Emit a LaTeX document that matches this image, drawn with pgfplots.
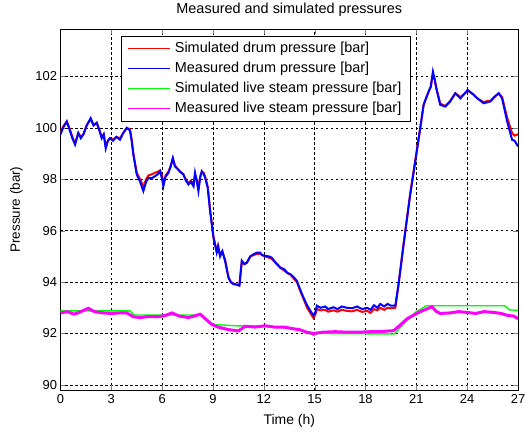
\documentclass[border=0pt]{standalone}
\usepackage{pgfplots}
\pgfplotsset{compat=1.18}
\usepackage{fontspec}
\setmainfont{Liberation Sans}
\definecolor{mred}{RGB}{255,0,0}
\definecolor{mblue}{RGB}{0,0,255}
\definecolor{mgreen}{RGB}{0,255,0}
\definecolor{mmag}{RGB}{255,0,255}
\begin{document}
\begin{tikzpicture}
\useasboundingbox (-60.5bp,-42bp) rectangle (464.5bp,390bp);
\begin{axis}[
  at={(0,0)}, anchor=south west,
  scale only axis, width=457.5bp, height=361bp,
  xmin=0, xmax=27, ymin=89.8, ymax=103.85,
  xtick={0,3,...,27}, ytick={90,92,...,102},
  tick align=inside, major tick length=5bp,
  xtick pos=both, ytick pos=both,
  grid=major,
  major grid style={black, line width=0.5pt, dash pattern=on 2.5bp off 2.5bp},
  axis line style={black, line width=0.8pt},
  /pgf/number format/assume math mode=true,
  tick label style={font=\fontsize{13}{15}\selectfont},
  xticklabel style={yshift=-1bp},
  title={Measured and simulated pressures},
  title style={font=\fontsize{14.5}{16}\selectfont, at={(axis description cs:0.5,1.036)}, anchor=center},
  xlabel={Time (h)},
  xlabel style={font=\fontsize{14}{16}\selectfont, at={(axis description cs:0.5,-0.0859)}, anchor=center},
  ylabel={Pressure (bar)},
  ylabel style={font=\fontsize{13.5}{16}\selectfont, at={(axis description cs:-0.0962,0.5)}, anchor=center},
  legend cell align=left,
  legend image code/.code={\draw[#1] (0bp,0bp) -- (42bp,0bp);},
  legend style={at={(axis description cs:0.1316,0.9806)}, anchor=north west,
    draw=black, fill=white, font=\fontsize{14.5}{16}\selectfont,
    inner xsep=6bp, inner ysep=2.5bp, row sep=0bp, column sep=2bp,
    nodes={inner sep=2.5bp, text height=11.5bp, text depth=3.5bp}},
]
\addplot[mred, line width=2pt, forget plot] coordinates {
(0,99.8) (0.15,100.05) (0.37,100.25) (0.55,99.95) (0.7,99.65) (0.86,99.4) (1.05,99.8) (1.2,99.65) (1.35,99.75) (1.55,100.1) (1.78,100.35) (1.95,100.1) (2.14,100.2) (2.3,99.9) (2.43,99.65) (2.55,99.75) (2.67,99.3) (2.8,99.5) (2.92,99.6) (3.1,99.55) (3.3,99.65) (3.51,99.6) (3.7,99.8) (3.91,100.0) (4.1,99.95) (4.2,99.55) (4.3,99.0) (4.5,98.25) (4.7,98.0) (4.89,97.7) (5.05,98.0) (5.19,98.15) (5.4,98.2) (5.58,98.25) (5.75,98.3) (5.88,98.35) (6.0,98.1) (6.07,97.85) (6.2,98.15) (6.37,98.3) (6.5,98.5) (6.63,98.8) (6.75,98.55) (6.86,98.45) (7.05,98.3) (7.25,98.2) (7.4,98.0) (7.55,97.85) (7.7,97.95) (7.85,97.8) (7.94,98.2) (8.05,97.95) (8.14,97.7) (8.25,98.1) (8.34,98.3) (8.45,98.25) (8.54,98.1) (8.69,97.7) (8.83,96.8) (9.03,95.75) (9.22,95.2) (9.3,95.4) (9.42,95.05) (9.55,95.2) (9.72,94.85) (9.91,94.2) (10.05,94.0) (10.2,93.95) (10.4,93.9) (10.56,93.9) (10.7,94.8) (10.85,94.7) (11.0,94.75) (11.2,95.0) (11.39,95.05) (11.6,95.1) (11.78,95.1) (11.9,95.05) (12.08,95.0) (12.3,94.95) (12.47,94.9) (12.7,94.75) (12.97,94.55) (13.2,94.45) (13.4,94.35) (13.56,94.3) (13.75,94.15) (13.95,94.0) (14.15,93.65) (14.34,93.35) (14.55,93.0) (14.74,92.8) (14.93,92.6) (15.05,92.75) (15.13,92.95) (15.35,92.9) (15.62,92.92) (15.8,92.85) (16.11,92.9) (16.35,92.85) (16.6,92.92) (16.9,92.88) (17.2,92.86) (17.5,92.92) (17.8,92.84) (18.09,92.88) (18.3,92.8) (18.5,92.95) (18.7,92.9) (18.87,93.0) (19.1,92.92) (19.3,93.0) (19.5,92.98) (19.76,93.0) (19.95,93.9) (20.25,95.5) (20.64,97.45) (20.94,98.75) (21.23,100.0) (21.43,100.9) (21.72,101.4) (21.85,101.6) (21.98,102.1) (22.08,101.9) (22.18,101.55) (22.41,100.95) (22.71,100.85) (23.0,101.05) (23.3,101.35) (23.6,101.2) (23.8,101.3) (24.03,101.45) (24.38,101.3) (24.6,101.15) (24.97,101.0) (25.2,101.05) (25.37,101.05) (25.6,101.2) (25.86,101.35) (26.06,101.2) (26.36,100.4) (26.65,99.8) (26.8,99.7) (27.0,99.75)
};
\addplot[mblue, line width=2pt, forget plot] coordinates {
(0,99.75) (0.15,100.0) (0.37,100.25) (0.55,99.9) (0.7,99.6) (0.86,99.35) (1.05,99.8) (1.2,99.6) (1.35,99.75) (1.55,100.1) (1.78,100.38) (1.95,100.1) (2.14,100.2) (2.3,99.9) (2.43,99.6) (2.55,99.75) (2.67,99.2) (2.8,99.5) (2.92,99.6) (3.1,99.5) (3.3,99.65) (3.51,99.54) (3.7,99.8) (3.91,100.0) (4.1,99.9) (4.2,99.5) (4.3,98.96) (4.5,98.19) (4.7,97.9) (4.89,97.54) (5.05,97.9) (5.19,98.05) (5.4,98.05) (5.58,98.12) (5.75,98.2) (5.88,98.31) (6.0,98.0) (6.07,97.73) (6.2,98.1) (6.37,98.25) (6.5,98.5) (6.63,98.83) (6.75,98.5) (6.86,98.44) (7.05,98.3) (7.25,98.19) (7.4,97.95) (7.55,97.8) (7.7,97.9) (7.85,97.73) (7.94,98.25) (8.05,97.9) (8.14,97.54) (8.25,98.1) (8.34,98.31) (8.45,98.2) (8.54,98.05) (8.69,97.67) (8.83,96.76) (9.03,95.73) (9.22,95.15) (9.3,95.4) (9.42,95.0) (9.55,95.2) (9.72,94.8) (9.91,94.18) (10.05,94.0) (10.2,93.92) (10.4,93.9) (10.56,93.86) (10.7,94.83) (10.85,94.7) (11.0,94.76) (11.2,95.0) (11.39,95.08) (11.6,95.15) (11.78,95.15) (11.9,95.05) (12.08,95.02) (12.3,95.0) (12.47,94.95) (12.7,94.75) (12.97,94.57) (13.2,94.5) (13.4,94.35) (13.56,94.31) (13.75,94.2) (13.95,94.05) (14.15,93.7) (14.34,93.4) (14.55,93.1) (14.74,92.89) (14.93,92.69) (15.05,92.85) (15.13,93.08) (15.35,93.0) (15.62,93.05) (15.8,92.95) (16.11,93.02) (16.35,92.95) (16.6,93.05) (16.9,93.0) (17.2,92.98) (17.5,93.05) (17.8,92.95) (18.09,93.0) (18.3,92.92) (18.5,93.1) (18.7,93.0) (18.87,93.15) (19.1,93.05) (19.3,93.15) (19.5,93.08) (19.76,93.08) (19.95,93.92) (20.25,95.47) (20.64,97.41) (20.94,98.7) (21.23,99.99) (21.43,100.9) (21.72,101.41) (21.85,101.6) (21.98,102.19) (22.08,101.9) (22.18,101.54) (22.41,100.9) (22.71,100.83) (23.0,101.03) (23.3,101.35) (23.6,101.15) (23.8,101.3) (24.03,101.48) (24.38,101.29) (24.6,101.15) (24.97,100.96) (25.2,101.0) (25.37,101.03) (25.6,101.2) (25.86,101.35) (26.06,101.15) (26.36,100.25) (26.65,99.54) (26.8,99.5) (27.0,99.28)
};
\addplot[mgreen, line width=1.4pt, forget plot] coordinates {
(0,92.88) (4.1,92.88) (4.35,92.72) (8.3,92.72) (8.6,92.55) (9.0,92.35) (10.3,92.3) (12.0,92.28) (13.8,92.2) (14.5,92.05) (14.95,91.92) (15.2,92.0) (19.7,91.98) (20.3,92.4) (21.0,92.85) (21.6,93.08) (26.2,93.08) (26.5,92.92) (27.0,92.9)
};
\addplot[mmag, line width=3pt, forget plot] coordinates {
(0,92.8) (0.4,92.85) (0.8,92.75) (1.2,92.85) (1.64,92.98) (2.0,92.85) (2.5,92.8) (3.0,92.78) (3.5,92.8) (3.91,92.8) (4.3,92.65) (4.7,92.62) (5.19,92.66) (5.7,92.65) (6.2,92.7) (6.57,92.8) (7.0,92.68) (7.55,92.62) (7.9,92.68) (8.24,92.75) (8.5,92.6) (8.93,92.35) (9.3,92.25) (9.91,92.15) (10.5,92.1) (10.9,92.28) (11.5,92.25) (12.08,92.3) (12.6,92.25) (13.2,92.25) (13.75,92.18) (14.1,92.15) (14.53,92.05) (14.93,92.0) (15.5,92.05) (16.2,92.07) (16.9,92.05) (17.6,92.05) (18.3,92.07) (19.0,92.08) (19.66,92.11) (20.0,92.3) (20.45,92.57) (20.8,92.7) (21.23,92.85) (21.6,92.95) (21.92,93.04) (22.2,92.85) (22.41,92.78) (23.0,92.8) (23.5,92.85) (23.99,92.82) (24.5,92.78) (25.0,92.85) (25.56,92.82) (26.0,92.78) (26.4,92.7) (26.74,92.68) (27.0,92.57)
};
\addlegendimage{draw=mred, line width=1.5pt}
\addlegendentry{Simulated drum pressure [bar]}
\addlegendimage{draw=mblue, line width=1.5pt}
\addlegendentry{Measured drum pressure [bar]}
\addlegendimage{draw=mgreen, line width=1.5pt}
\addlegendentry{Simulated live steam pressure [bar]}
\addlegendimage{draw=mmag, line width=1.5pt}
\addlegendentry{Measured live steam pressure [bar]}
\end{axis}
\end{tikzpicture}
\end{document}
